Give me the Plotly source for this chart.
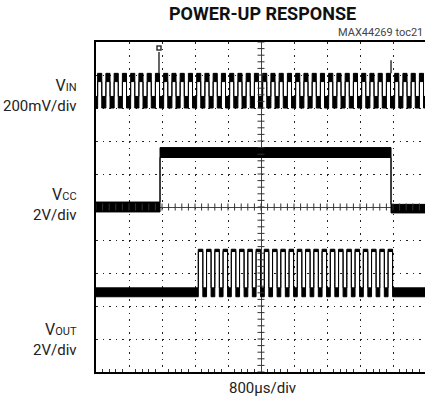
import numpy as np
import plotly.graph_objects as go

# ---------------- data (time in µs, trace levels in screen divisions, 0 = centre) ----------
T_DIV_US = 800                      # 800 µs/div, 10 divisions
T_START, T_END = -4000, 4000

VIN_RISE_US = [-3960, -3760, -3560, -3360, -3160, -2960, -2760, -2560, -2360, -2160,
               -1960, -1760, -1560, -1360, -1160, -960, -760, -560, -360, -160,
               40, 240, 440, 640, 840, 1040, 1240, 1440, 1640, 1840,
               2040, 2240, 2440, 2640, 2840, 3040, 3240, 3440, 3640, 3840]
VIN_HIGH_US = 100
VIN_HIGH_BAND = [3.80, 4.05]        # lower / upper edge of noisy high level
VIN_LOW_BAND = [3.00, 3.35]
VIN_SPIKE_US = [-2473, 3152]        # coupling spikes at V_CC edges
VIN_SPIKE_TOP = [4.70, 4.45]
TRIG_MARK_US = -2473                # small marker at the top of the screen
TRIG_MARK_DIV = 4.82

# V_CC : off -> on -> off
VCC_EDGES_US = [-2448, 3152]
VCC_OFF_BAND = [-0.15, 0.15]
VCC_ON_BAND = [1.50, 1.80]
VCC_OFF2_BAND = [-0.18, 0.08]

# V_OUT : burst of pulses while V_CC is up
VOUT_RISE_US = [-1520, -1320, -1120, -920, -720, -520, -320, -120, 80, 280,
                480, 680, 880, 1080, 1280, 1480, 1680, 1880, 2080, 2280,
                2480, 2680, 2880, 3080]
VOUT_HIGH_US = 110
VOUT_HIGH_BAND = [-1.35, -1.28]
VOUT_LOW_BAND = [-2.72, -2.45]

LEFT_LABELS = [("V", "IN", "200mV/div"), ("V", "CC", "2V/div"), ("V", "OUT", "2V/div")]
TITLE = "POWER-UP RESPONSE"
TAG = "MAX44269 toc21"
XLABEL = "800µs/div"

# ---------------- helpers ----------------
def pulse_path(rises, high_dur, hi, lo):
    xs, ys = [T_START], [lo]
    for r in rises:
        xs += [r, r, r + high_dur, r + high_dur]
        ys += [lo, hi, hi, lo]
    xs.append(T_END)
    ys.append(lo)
    return xs, ys


def band_traces(xs, ys_top, ys_bot):
    return [
        go.Scatter(x=xs, y=ys_top, mode="lines", line=dict(color="black", width=1),
                   hoverinfo="skip", showlegend=False),
        go.Scatter(x=xs, y=ys_bot, mode="lines", line=dict(color="black", width=1),
                   fill="tonexty", fillcolor="black", hoverinfo="skip", showlegend=False),
    ]


fig = go.Figure()

# V_IN
x_t, y_t = pulse_path(VIN_RISE_US, VIN_HIGH_US, VIN_HIGH_BAND[1], VIN_LOW_BAND[1])
x_b, y_b = pulse_path(VIN_RISE_US, VIN_HIGH_US, VIN_HIGH_BAND[0], VIN_LOW_BAND[0])
for tr in band_traces(x_t, y_t, y_b):
    fig.add_trace(tr)
for t, top in zip(VIN_SPIKE_US, VIN_SPIKE_TOP):
    fig.add_trace(go.Scatter(x=[t, t], y=[VIN_HIGH_BAND[1], top], mode="lines",
                             line=dict(color="black", width=1.2), showlegend=False, hoverinfo="skip"))
fig.add_trace(go.Scatter(x=[TRIG_MARK_US], y=[TRIG_MARK_DIV], mode="markers",
                         marker=dict(symbol="square-open", size=4, color="#333", line=dict(width=1.5)),
                         showlegend=False, hoverinfo="skip"))

# V_CC
r, f = VCC_EDGES_US
vcc_x = [T_START, r, r, f, f, T_END]
vcc_top = [VCC_OFF_BAND[1], VCC_OFF_BAND[1], VCC_ON_BAND[1], VCC_ON_BAND[1], VCC_OFF2_BAND[1], VCC_OFF2_BAND[1]]
vcc_bot = [VCC_OFF_BAND[0], VCC_OFF_BAND[0], VCC_ON_BAND[0], VCC_ON_BAND[0], VCC_OFF2_BAND[0], VCC_OFF2_BAND[0]]
for tr in band_traces(vcc_x, vcc_top, vcc_bot):
    fig.add_trace(tr)

# V_OUT
x_t, y_t = pulse_path(VOUT_RISE_US, VOUT_HIGH_US, VOUT_HIGH_BAND[1], VOUT_LOW_BAND[1])
x_b, y_b = pulse_path(VOUT_RISE_US, VOUT_HIGH_US, VOUT_HIGH_BAND[0], VOUT_LOW_BAND[0])
for tr in band_traces(x_t, y_t, y_b):
    fig.add_trace(tr)

# graticule ticks on the centre cross
xt = np.arange(T_START, T_END + 1, T_DIV_US / 5)
yt = np.arange(-5, 5.01, 0.2)
fig.add_trace(go.Scatter(x=xt, y=np.zeros_like(xt), mode="markers",
                         marker=dict(symbol="line-ns", size=5, line=dict(color="#333", width=1)),
                         hoverinfo="skip", showlegend=False))
fig.add_trace(go.Scatter(x=np.zeros_like(yt), y=yt, mode="markers",
                         marker=dict(symbol="line-ew", size=5, line=dict(color="#333", width=1)),
                         hoverinfo="skip", showlegend=False))

W, H = 425, 406
L, T, B = 96, 42, 34
PW = W - L
PH = H - T - B
GRID_DASH = "1.6px,5px"

fig.update_xaxes(range=[T_START, T_START + PW / 330 * 10 * T_DIV_US], dtick=T_DIV_US, tick0=0,
                 showgrid=True, gridcolor="#222", gridwidth=1.3, griddash=GRID_DASH,
                 zeroline=True, zerolinecolor="#444", zerolinewidth=1,
                 showline=True, linecolor="black", linewidth=2, mirror=True,
                 ticks="inside", ticklen=0, showticklabels=False,
                 minor=dict(dtick=T_DIV_US / 5, ticks="inside", ticklen=3, tickcolor="#333", showgrid=False))
fig.update_yaxes(range=[-5, 5], dtick=1, tick0=0,
                 showgrid=True, gridcolor="#222", gridwidth=1.3, griddash=GRID_DASH,
                 zeroline=True, zerolinecolor="#444", zerolinewidth=1,
                 showline=True, linecolor="black", linewidth=2, mirror=False,
                 showticklabels=False)

FONT = "Roboto, Liberation Sans, Arial, sans-serif"

def px_x(px):
    return (px - L) / PW

def px_y(py):
    return (H - B - py) / PH

ann = []
label_centres = [95, 204, 339]
for (name, sub, scale), yc in zip(LEFT_LABELS, label_centres):
    txt = ("<span style='font-size:16px'>" + name + "</span>"
           "<span style='font-size:11px'>" + sub + "</span><br>" + scale)
    ann.append(dict(text=txt, x=px_x(79), y=px_y(yc), xref="paper", yref="paper",
                    xanchor="right", yanchor="middle", align="right", showarrow=False,
                    font=dict(family=FONT, size=15, color="#222")))
ann.append(dict(text="<b>" + TITLE + "</b>", x=px_x(262), y=px_y(14), xref="paper", yref="paper",
                xanchor="center", yanchor="middle", showarrow=False,
                font=dict(family=FONT, size=18, color="#111")))
ann.append(dict(text=TAG, x=1.0, y=px_y(33), xref="paper", yref="paper",
                xanchor="right", yanchor="middle", showarrow=False,
                font=dict(family=FONT, size=11, color="#444")))
ann.append(dict(text=XLABEL, x=px_x(262), y=px_y(388), xref="paper", yref="paper",
                xanchor="center", yanchor="middle", showarrow=False,
                font=dict(family=FONT, size=15, color="#222")))

fig.update_layout(width=W, height=H, margin=dict(l=L, r=0, t=T, b=B, pad=0),
                  paper_bgcolor="white", plot_bgcolor="white", showlegend=False,
                  annotations=ann)

fig.write_html("out.html")
